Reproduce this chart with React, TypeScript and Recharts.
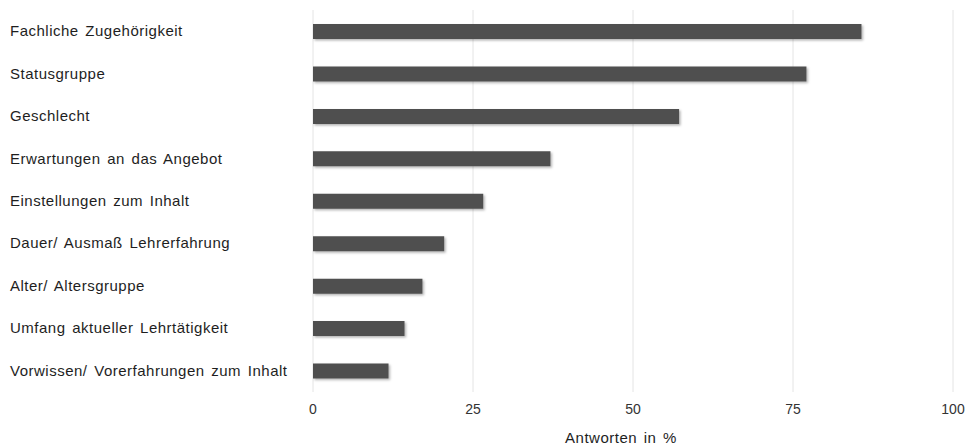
import { BarChart, Bar, XAxis, YAxis, CartesianGrid } from "recharts"

const categories = [
  "Fachliche Zugehörigkeit",
  "Statusgruppe",
  "Geschlecht",
  "Erwartungen an das Angebot",
  "Einstellungen zum Inhalt",
  "Dauer/ Ausmaß Lehrerfahrung",
  "Alter/ Altersgruppe",
  "Umfang aktueller Lehrtätigkeit",
  "Vorwissen/ Vorerfahrungen zum Inhalt",
]

const answers = [85.7, 77.1, 57.2, 37.1, 26.6, 20.5, 17.1, 14.3, 11.8]

const xTicks = [0, 25, 50, 75, 100]

const data = categories.map((name, i) => ({ name, value: answers[i] }))

const font = "'Liberation Sans', Arial, sans-serif"

function CategoryTick({ y, payload }: any) {
  return (
    <text
      x={2}
      y={y}
      dy={5}
      textAnchor="start"
      fill="#1e1e1e"
      fontSize={15}
      fontFamily={font}
      style={{ letterSpacing: 0.5, wordSpacing: 2 }}
    >
      {payload.value}
    </text>
  )
}

export default function App() {
  return (
    <div style={{ width: 965, height: 438, background: "#fff" }}>
      <svg width={0} height={0} style={{ position: "absolute" }}>
        <defs>
          <filter id="barShadow" x="-5%" y="-30%" width="110%" height="170%">
            <feDropShadow dx="1.5" dy="1.5" stdDeviation="1" floodColor="#000" floodOpacity="0.3" />
          </filter>
        </defs>
      </svg>
      <BarChart
        width={965}
        height={438}
        data={data}
        layout="vertical"
        margin={{ top: 2, right: 20, left: 0, bottom: 0 }}
      >
        <CartesianGrid horizontal={false} stroke="#e4e4e4" />
        <XAxis
          type="number"
          domain={[0, 100]}
          ticks={xTicks}
          axisLine={false}
          tickLine={false}
          height={54}
          tick={{ fill: "#333", fontSize: 14, fontFamily: font }}
          tickMargin={6}
          label={{
            value: "Antworten in %",
            position: "insideBottom",
            offset: 3,
            dx: -12,
            fill: "#1e1e1e",
            fontSize: 15,
            fontFamily: font,
            style: { letterSpacing: 0.5, wordSpacing: 2 },
          }}
        />
        <YAxis
          type="category"
          dataKey="name"
          width={305}
          axisLine={false}
          tickLine={false}
          tick={<CategoryTick />}
        />
        <Bar
          dataKey="value"
          fill="#505050"
          barSize={15}
          isAnimationActive={false}
          style={{ filter: "url(#barShadow)" }}
        />
      </BarChart>
    </div>
  )
}
